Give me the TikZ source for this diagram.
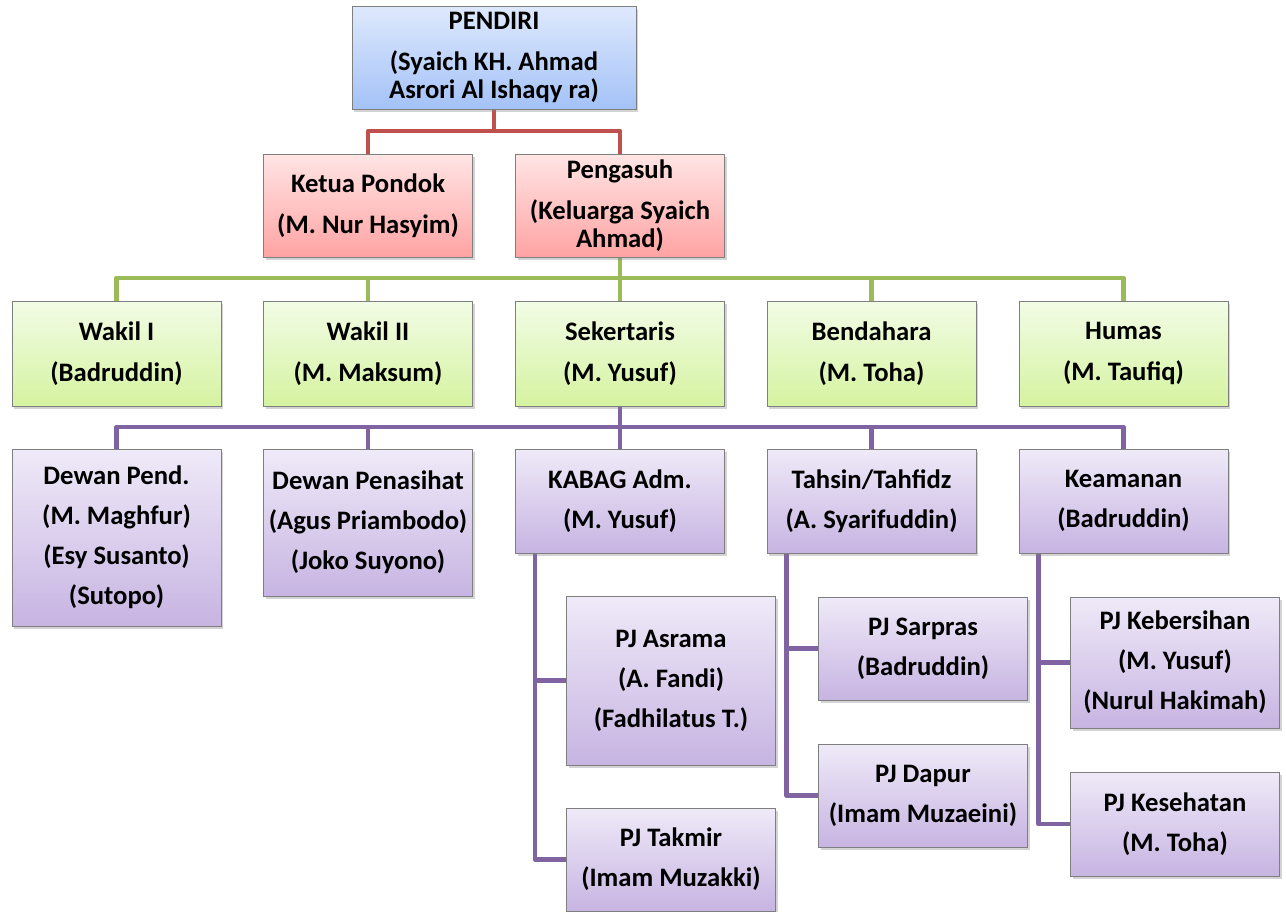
\documentclass[tikz,border=0pt]{standalone}
\usepackage{fontspec}
\setmainfont{Carlito}
\usetikzlibrary{shadows,backgrounds}
\definecolor{boxgray}{HTML}{7F7F7F}
\definecolor{lred}{HTML}{C0504D}
\definecolor{lgreen}{HTML}{9BBB59}
\definecolor{lpurp}{HTML}{8064A2}
\begin{document}
\begin{tikzpicture}[x=0.75pt,y=-0.75pt,
  box/.style={draw=boxgray, line width=0.75pt, align=center, inner sep=2pt,
    minimum width=156.75pt,
    font=\fontsize{20}{21}\selectfont\bfseries,
    drop shadow={shadow xshift=1.5pt, shadow yshift=-2.5pt, opacity=0.35}},
  hh/.style={minimum height=#1*0.75pt},
  bluebox/.style={box, top color=blue!0!white!0, top color={rgb,255:red,222;green,233;blue,253}, bottom color={rgb,255:red,164;green,194;blue,247}},
  redbox/.style={box, top color={rgb,255:red,255;green,229;blue,229}, bottom color={rgb,255:red,255;green,163;blue,163}},
  greenbox/.style={box, top color={rgb,255:red,242;green,252;blue,230}, bottom color={rgb,255:red,213;green,243;blue,160}},
  purpbox/.style={box, top color={rgb,255:red,239;green,234;blue,248}, bottom color={rgb,255:red,199;green,180;blue,226}},
  conn/.style={line width=3.5pt, line join=round},
  redl/.style={conn, draw=lred},
  greenl/.style={conn, draw=lgreen},
  purpl/.style={conn, draw=lpurp}]
\useasboundingbox (0,0) rectangle (1286,911);

% top
\node[bluebox, hh=103, minimum width=213pt] (pendiri) at (494,57.5)
  {PENDIRI\\[10pt](Syaich KH. Ahmad\\Asrori Al Ishaqy ra)};
\node[redbox, hh=103] (ketua) at (368,205.5) {Ketua Pondok\\[10pt](M. Nur Hasyim)};
\node[redbox, hh=103] (peng) at (620,205.5) {Pengasuh\\[10pt](Keluarga Syaich\\Ahmad)};

% green row
\node[greenbox, hh=105] (w1) at (116.5,353.5) {Wakil I\\[10pt](Badruddin)};
\node[greenbox, hh=105] (w2) at (368,353.5) {Wakil II\\[10pt](M. Maksum)};
\node[greenbox, hh=105] (sek) at (620,353.5) {Sekertaris\\[10pt](M. Yusuf)};
\node[greenbox, hh=105] (bend) at (871.5,353.5) {Bendahara\\[10pt](M. Toha)};
\node[greenbox, hh=105] (humas) at (1123.5,353.5) {Humas\\[10pt](M. Taufiq)};

% purple row
\node[purpbox, hh=177] (dpend) at (116.5,537.5) {Dewan Pend.\\[9pt](M. Maghfur)\\[9pt](Esy Susanto)\\[9pt](Sutopo)};
\node[purpbox, hh=147] (dpen) at (368,522.5) {Dewan Penasihat\\[9pt](Agus Priambodo)\\[9pt](Joko Suyono)};
\node[purpbox, hh=104] (kabag) at (620,501) {KABAG Adm.\\[9pt](M. Yusuf)};
\node[purpbox, hh=104] (tahsin) at (871.5,501) {Tahsin/Tahfidz\\[9pt](A. Syarifuddin)};
\node[purpbox, hh=104] (keam) at (1123.5,501) {Keamanan\\[9pt](Badruddin)};

% sub boxes
\node[purpbox, hh=169] (asrama) at (671,680.5) {PJ Asrama\\[9pt](A. Fandi)\\[9pt](Fadhilatus T.)};
\node[purpbox, hh=103] (takmir) at (671,859.5) {PJ Takmir\\[9pt](Imam Muzakki)};
\node[purpbox, hh=103] (sarpras) at (923,648.5) {PJ Sarpras\\[9pt](Badruddin)};
\node[purpbox, hh=103] (dapur) at (923,795.5) {PJ Dapur\\[9pt](Imam Muzaeini)};
\node[purpbox, hh=131] (kebers) at (1175,662.5) {PJ Kebersihan\\[9pt](M. Yusuf)\\[9pt](Nurul Hakimah)};
\node[purpbox, hh=104] (keseh) at (1175,824) {PJ Kesehatan\\[9pt](M. Toha)};

\coordinate (rb) at (494,131);
\coordinate (gb) at (620,278);
\coordinate (pb) at (620,427);

\begin{pgfonlayer}{background}
\draw[redl] (pendiri.south) -- (rb);
\draw[redl] (ketua.north) |- (rb);
\draw[redl] (peng.north) |- (rb);

\draw[greenl] (peng.south) -- (gb);
\draw[greenl] (w1.north) |- (gb);
\draw[greenl] (w2.north) |- (gb);
\draw[greenl] (sek.north) -- (gb);
\draw[greenl] (bend.north) |- (gb);
\draw[greenl] (humas.north) |- (gb);

\draw[purpl] (sek.south) -- (pb);
\draw[purpl] (dpend.north) |- (pb);
\draw[purpl] (dpen.north) |- (pb);
\draw[purpl] (kabag.north) -- (pb);
\draw[purpl] (tahsin.north) |- (pb);
\draw[purpl] (keam.north) |- (pb);

\draw[purpl] (asrama.west) -| ([xshift=15pt]kabag.south west);
\draw[purpl] (takmir.west) -| ([xshift=15pt]kabag.south west);
\draw[purpl] (sarpras.west) -| ([xshift=15pt]tahsin.south west);
\draw[purpl] (dapur.west) -| ([xshift=15pt]tahsin.south west);
\draw[purpl] (kebers.west) -| ([xshift=15pt]keam.south west);
\draw[purpl] (keseh.west) -| ([xshift=15pt]keam.south west);
\end{pgfonlayer}
\end{tikzpicture}
\end{document}
